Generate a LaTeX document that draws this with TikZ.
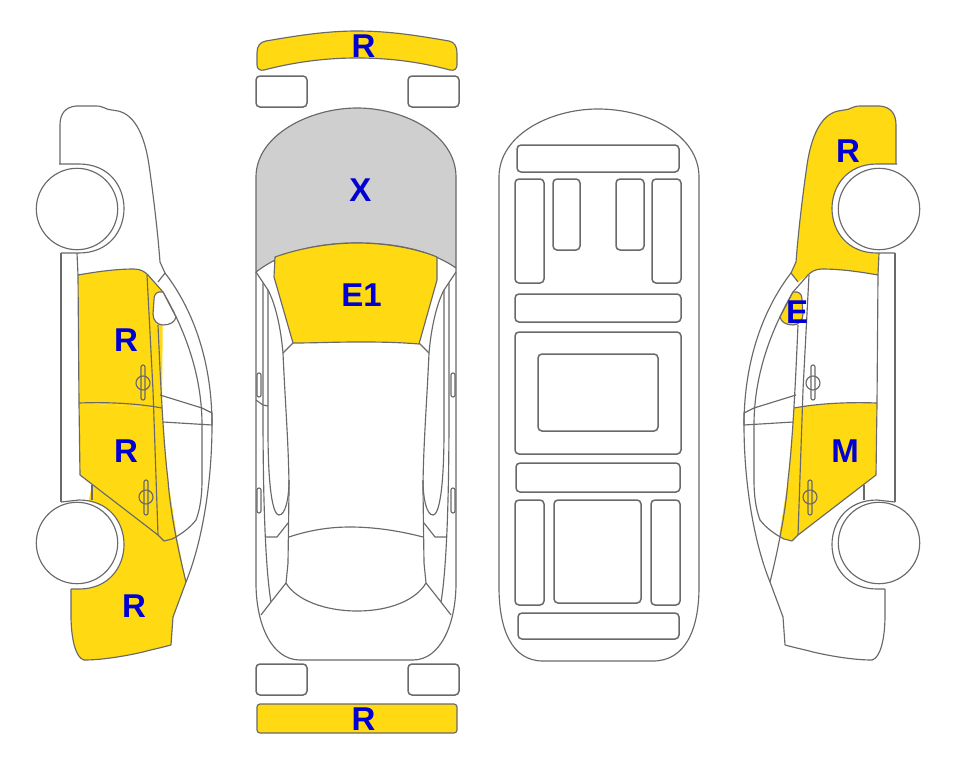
\documentclass[tikz,border=0pt]{standalone}
\usepackage{fontspec}
\setmainfont{Liberation Sans}
\definecolor{panelyellow}{RGB}{255,217,17}
\definecolor{panelgray}{RGB}{207,207,207}
\definecolor{labelblue}{RGB}{0,0,210}
\definecolor{linegray}{RGB}{105,105,105}
\tikzset{
  panelline/.style={draw=linegray, line width=1.15pt, line join=round},
  partbox/.style={draw=linegray, line width=1.5pt, rounded corners=4pt},
  paintlabel/.style={text=labelblue, font=\fontsize{33}{33}\selectfont\bfseries, inner sep=0pt}
}
% side view outline pieces %
\newcommand{\sideroof}{(60,164) -- (60,125) .. controls (60,113) and (66,107) .. (76,106) -- (96,106) .. controls (104,106) and (106,110) .. (112,110) -- (118,111) .. controls (136,115) and (145,138) .. (149,165) .. controls (154,200) and (158,235) .. (160,262) -- (165,273)}
\newcommand{\sidetail}{(171,645) .. controls (160,648) and (150,650) .. (143,652) .. controls (130,655) and (105,660) .. (84,660) .. controls (76,658) and (71,640) .. (71,615) -- (71,589)}
\newcommand{\sidedoortop}{(78,275) .. controls (95,272) and (115,269) .. (134,269) .. controls (141,269) and (145,272) .. (148,275) -- (163,292)}
\newcommand{\sidewheels}{
  \draw[panelline,fill=white] (59,164) -- (79,164) .. controls (139,164) and (139,253) .. (79,253) -- (61,253);
  \draw[panelline,fill=white] (61,502) -- (79,500) .. controls (139,500) and (139,589) .. (79,589) -- (71,589);
  \draw[panelline,fill=white] (77,209) circle[radius=40.7];
  \draw[panelline,fill=white] (77,543) circle[radius=40.7];
}
\newcommand{\sidelines}{
  \draw[panelline] \sideroof;
  \draw[panelline] \sidetail;
  \draw[panelline] (186,582) -- (173,617) -- (171,645);
  \draw[panelline] \sidedoortop;
  % glass and pillars %
  \draw[panelline] (158,282) -- (165,273);
  \draw[panelline] (165,273) .. controls (195,312) and (212,365) .. (212,425) .. controls (212,480) and (203,540) .. (186,582);
  \draw[panelline] (163,292) .. controls (185,330) and (202,375) .. (202,425) -- (202,480) .. controls (202,500) and (199,512) .. (196,520) .. controls (190,528) and (180,535) .. (172,539) -- (164,541);
  \draw[panelline] (160,395) -- (202,408) -- (212,413) -- (212,425) -- (163,422);
  % door seams %
  \draw[panelline] (147,275) -- (153,390) -- (158,535);
  \draw[panelline] (158,325) .. controls (160,370) and (163,440) .. (168,480) .. controls (170,510) and (178,550) .. (186,582);
  \draw[panelline] (79,403) .. controls (105,402) and (135,403) .. (162,408);
  \draw[panelline] (78,275) -- (79,403) -- (80,475) -- (158,535) -- (164,541);
  \draw[panelline] (92,485) -- (92,500);
  \draw[panelline] (77,253) -- (78,275);
  \draw[panelline] (61,253) -- (61,502);
  % handles %
  \draw[panelline] (143,383) circle[radius=7];
  \draw[panelline,rounded corners=2pt] (141,365) rectangle (145,400);
  \draw[panelline] (146,497) circle[radius=7];
  \draw[panelline,rounded corners=2pt] (144,480) rectangle (148,515);
}
\newcommand{\sidemirror}[1]{
  \draw[panelline,fill=#1] (163,292) -- (159,292) .. controls (155,293) and (154,296) .. (154,300) -- (153,314) .. controls (153,320) and (157,325) .. (163,325) .. controls (170,325) and (175,322) .. (176,317) -- cycle;
}
% top view lines, used for both sides %
\newcommand{\toplines}{
  \draw[panelline] (263,283) -- (263,410) .. controls (263,470) and (264,560) .. (271,602);
  \draw[panelline] (268,290) -- (268,430) .. controls (268,490) and (273,515) .. (279,515) .. controls (285,515) and (289,500) .. (289,480);
  \draw[panelline] (256,272) -- (268,290) .. controls (276,305) and (281,330) .. (283,353) .. controls (285,400) and (289,450) .. (289,490) -- (288,563) -- (286,583);
  \draw[panelline] (283,353) -- (293,343);
  \draw[panelline] (265,537) -- (277,537) -- (288,523);
  \draw[panelline] (286,583) -- (271,602) -- (261,615);
  \draw[panelline,rounded corners=2pt] (257,373) rectangle (261,397);
  \draw[panelline,rounded corners=2pt] (257,488) rectangle (261,513);
}
\begin{document}
\begin{tikzpicture}[x=1pt,y=-1pt]
        \useasboundingbox (0,0) rectangle (963,768);
        % left side %
        \fill[panelyellow] \sidedoortop -- (162,408) -- (79,403) -- cycle;
        \fill[panelyellow] (79,403) -- (162,408) -- (168,480) -- (177,537) -- (164,541) -- (158,535) -- (80,475) -- cycle;
        \fill[panelyellow] \sidetail -- (92,485) -- (158,535) -- (164,541) -- (177,537) -- (186,582) -- (173,617) -- cycle;
        \sidelines
        \sidemirror{white}
        \sidewheels
        % right side %
        \begin{scope}[shift={(956,0)},xscale=-1]
        \fill[panelyellow] \sideroof -- (158,282) -- (148,275) .. controls (145,272) and (141,269) .. (134,269) .. controls (115,269) and (95,272) .. (78,275) -- (77,253) -- cycle;
        \fill[panelyellow] (79,403) .. controls (105,402) and (135,403) .. (162,408) -- (168,480) -- (177,537) -- (164,541) -- (158,535) -- (80,475) -- cycle;
        \sidelines
        \sidemirror{panelyellow}
        \sidewheels
        \end{scope}
        % top view %
        \draw[panelline,fill=panelyellow] (257,53) .. controls (257,46) and (260,42) .. (266,41) .. controls (295,36) and (325,31) .. (357,31) .. controls (390,31) and (420,36) .. (449,41) .. controls (454,42) and (457,46) .. (457,53) -- (457,65) .. controls (457,69) and (454,71) .. (450,70) .. controls (420,62) and (390,58) .. (357,58) .. controls (325,58) and (295,62) .. (264,70) .. controls (260,71) and (257,69) .. (257,65) -- cycle;
        \draw[partbox] (256,76) rectangle (307,107);
        \draw[partbox] (408,76) rectangle (459,107);
        \draw[panelline,fill=panelgray] (256,272) -- (256,177) .. controls (256,135) and (310,108) .. (357,108) .. controls (405,108) and (456,135) .. (456,177) -- (456,268) .. controls (430,250) and (395,243) .. (357,243) .. controls (320,243) and (285,250) .. (256,272) -- cycle;
        \draw[panelline,fill=panelyellow] (275,257) .. controls (300,248) and (330,243) .. (357,243) .. controls (385,243) and (415,248) .. (437,257) -- (437,280) -- (419,344) .. controls (395,342) and (375,342) .. (357,342) .. controls (335,342) and (315,343) .. (293,343) -- (274,277) -- cycle;
        \draw[panelline] (256,272) -- (256,583) .. controls (256,625) and (272,660) .. (300,660) -- (413,660) .. controls (440,660) and (456,625) .. (456,583) -- (456,268);
        \toplines
        \begin{scope}[shift={(712,0)},xscale=-1]
        \toplines
        \end{scope}
        \draw[panelline] (256,400) -- (263,405) -- (268,406);
        \draw[panelline] (289,537) .. controls (310,530) and (330,527) .. (350,527) .. controls (375,527) and (400,531) .. (423,537);
        \draw[panelline] (286,583) .. controls (296,600) and (325,611) .. (357,611) .. controls (390,611) and (416,600) .. (426,583);
        \draw[partbox] (256,664) rectangle (307,695);
        \draw[partbox] (408,664) rectangle (459,695);
        \draw[panelline,fill=panelyellow,rounded corners=3pt] (257,704) rectangle (457,733);
        % plan view %
        \draw[panelline] (499,587) -- (499,177) .. controls (499,135) and (550,109) .. (598,109) .. controls (648,109) and (699,135) .. (699,177) -- (699,587) .. controls (699,630) and (685,661) .. (653,661) -- (543,661) .. controls (512,661) and (499,630) .. (499,587);
        \draw[partbox] (517,145) rectangle (679,172);
        \draw[partbox] (515,179) rectangle (544,283);
        \draw[partbox] (553,179) rectangle (580,250);
        \draw[partbox] (616,179) rectangle (644,250);
        \draw[partbox] (652,179) rectangle (681,283);
        \draw[partbox] (515,294) rectangle (681,322);
        \draw[partbox] (515,332) rectangle (681,454);
        \draw[partbox] (538,354) rectangle (658,431);
        \draw[partbox] (516,463) rectangle (680,492);
        \draw[partbox] (515,500) rectangle (544,605);
        \draw[partbox] (554,500) rectangle (641,603);
        \draw[partbox] (651,500) rectangle (680,605);
        \draw[partbox] (518,613) rectangle (679,639);
        % labels %
        \node[paintlabel] (bumperfront) at (363.5,46) {R};
        \node[paintlabel] (hood) at (360.5,190) {X};
        \node[paintlabel] (screen) at (361.5,295) {E1};
        \node[paintlabel] (bumperrear) at (363.5,719) {R};
        \node[paintlabel] (doorfrontl) at (126,340) {R};
        \node[paintlabel] (doorrearl) at (126,451) {R};
        \node[paintlabel] (fenderl) at (134,606) {R};
        \node[paintlabel] (fenderr) at (848,151) {R};
        \node[paintlabel] (mirrorr) at (797,312) {E};
        \node[paintlabel] (doorr) at (845,451) {M};
\end{tikzpicture}
\end{document}
